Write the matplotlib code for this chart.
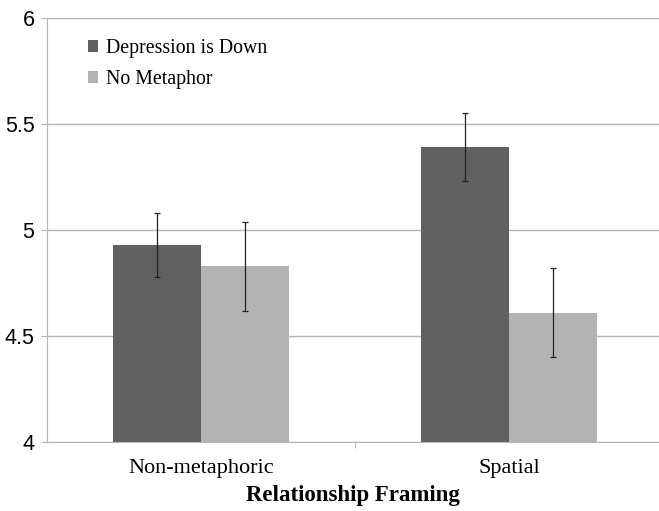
import matplotlib.pyplot as plt
import numpy as np

categories = ["Non-metaphoric", "Spatial"]
series_names = ["Depression is Down", "No Metaphor"]
depression_down = [4.93, 5.39]
depression_down_err = [0.15, 0.16]
no_metaphor = [4.83, 4.61]
no_metaphor_err = [0.21, 0.21]
y_ticks = [4, 4.5, 5, 5.5, 6]
y_tick_labels = ["4", "4.5", "5", "5.5", "6"]

DARK = "#606060"
LIGHT = "#b3b3b3"
GRID = "#b5b5b5"

fig = plt.figure(figsize=(6.59, 5.11), dpi=100)
ax = fig.add_axes([47 / 659, 69 / 511, 612 / 659, 424 / 511])

x = np.arange(len(categories))
width = 0.2857

ax.bar(x - width / 2, depression_down, width, color=DARK,
       label=series_names[0], zorder=2)
ax.bar(x + width / 2, no_metaphor, width, color=LIGHT,
       label=series_names[1], zorder=2)

err_style = dict(fmt="none", ecolor="#222222", elinewidth=0.9, capsize=2,
                 capthick=0.9, zorder=3)
ax.errorbar(x - width / 2, depression_down, yerr=depression_down_err, **err_style)
ax.errorbar(x + width / 2, no_metaphor, yerr=no_metaphor_err, **err_style)

ax.set_ylim(4, 6)
ax.set_xlim(-0.5, 1.487)
ax.set_yticks(y_ticks)
ax.set_yticklabels(y_tick_labels, fontfamily="Liberation Sans", fontsize=15.5)
ax.yaxis.grid(True, color=GRID, linewidth=1.0, zorder=0)
ax.set_axisbelow(True)

ax.set_xticks(x)
ax.set_xticklabels(categories, fontfamily="Liberation Serif", fontsize=16)
ax.tick_params(axis="x", length=0, pad=12)
ax.set_xticks([0.5], minor=True)
ax.tick_params(axis="x", which="minor", length=4, color=GRID)
ax.tick_params(axis="y", length=4, color=GRID, pad=5)

ax.set_xlabel("Relationship Framing", fontfamily="Liberation Serif",
              fontsize=16.5, fontweight="bold", labelpad=5)

for side in ["top", "right"]:
    ax.spines[side].set_visible(False)
ax.spines["left"].set_color(GRID)
ax.spines["bottom"].set_color(GRID)

leg = ax.legend(loc="upper left", bbox_to_anchor=(80 / 659, 480 / 511),
                bbox_transform=fig.transFigure, frameon=False,
                prop={"family": "Liberation Serif", "size": 14.3},
                handlelength=0.52, handleheight=0.52, handletextpad=0.4,
                labelspacing=0.6, borderaxespad=0)

fig.savefig("out.png", dpi=100)
